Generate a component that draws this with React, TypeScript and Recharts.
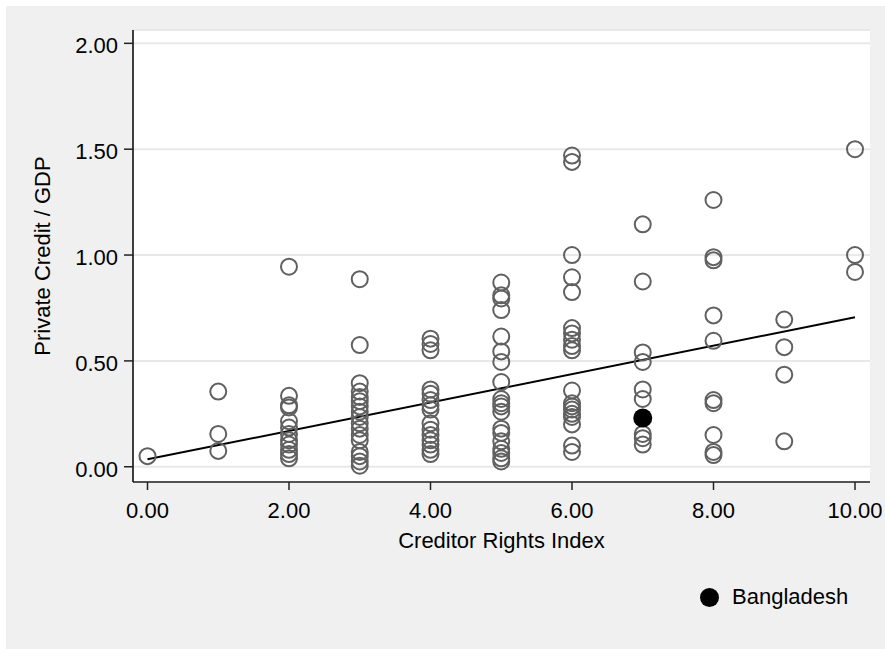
import {
  ScatterChart,
  Scatter,
  XAxis,
  YAxis,
  CartesianGrid,
  ReferenceLine,
} from "recharts";

// creditor rights index (x) and private credit / GDP values read at each index
const RIGHTS_INDEX = [0, 1, 2, 3, 4, 5, 6, 7, 8, 9, 10];
const CREDIT_BY_INDEX: number[][] = [
  [0.05],
  [0.355, 0.155, 0.075],
  [0.945, 0.335, 0.29, 0.28, 0.215, 0.185, 0.155, 0.125, 0.105, 0.08, 0.06, 0.04],
  [0.886, 0.575, 0.395, 0.355, 0.33, 0.31, 0.285, 0.26, 0.235, 0.205, 0.18, 0.15, 0.125, 0.07, 0.05, 0.025, 0.005],
  [0.605, 0.58, 0.55, 0.365, 0.345, 0.315, 0.29, 0.27, 0.205, 0.175, 0.15, 0.125, 0.105, 0.08, 0.06],
  [0.87, 0.81, 0.795, 0.74, 0.615, 0.545, 0.495, 0.4, 0.32, 0.3, 0.285, 0.26, 0.18, 0.16, 0.12, 0.085, 0.065, 0.04, 0.025],
  [1.47, 1.44, 1.0, 0.895, 0.825, 0.655, 0.63, 0.6, 0.57, 0.55, 0.36, 0.3, 0.285, 0.27, 0.25, 0.235, 0.2, 0.1, 0.07],
  [1.145, 0.875, 0.54, 0.495, 0.365, 0.32, 0.155, 0.135, 0.105],
  [1.26, 0.99, 0.975, 0.715, 0.595, 0.315, 0.3, 0.15, 0.07, 0.055],
  [0.695, 0.565, 0.435, 0.12],
  [1.5, 1.0, 0.92],
];

const BANGLADESH_X = [7];
const BANGLADESH_Y = [0.23];

// fitted line end points
const FIT_X = [0, 10];
const FIT_Y = [0.035, 0.706];

const X_TICKS = [0, 2, 4, 6, 8, 10];
const Y_TICKS = [0, 0.5, 1, 1.5, 2];

const FONT = '"Liberation Sans", Arial, sans-serif';

const points = RIGHTS_INDEX.flatMap((x, i) =>
  CREDIT_BY_INDEX[i].map((y) => ({ x, y })),
);
const bangladesh = BANGLADESH_X.map((x, i) => ({ x, y: BANGLADESH_Y[i] }));

const hollow = (p: any) => (
  <circle cx={p.cx} cy={p.cy} r={8} fill="none" stroke="#606060" strokeWidth={2} />
);
const filled = (p: any) => <circle cx={p.cx} cy={p.cy} r={9.5} fill="#000" />;

export default function App() {
  return (
    <div
      style={{
        position: "absolute",
        left: 0,
        top: 0,
        width: 885,
        height: 649,
        background: "#fff",
        fontFamily: FONT,
      }}
    >
      <div
        style={{
          position: "absolute",
          left: 6,
          top: 6,
          width: 879,
          height: 643,
          background: "#f0f0f0",
        }}
      />
      <div style={{ position: "absolute", left: 0, top: 0 }}>
        <ScatterChart
          width={885}
          height={649}
          margin={{ top: 30, right: 15, bottom: 0, left: 0 }}
        >
          <CartesianGrid
            vertical={false}
            fill="#fff"
            stroke="#e8e8e8"
            strokeWidth={2}
          />
          <XAxis
            type="number"
            dataKey="x"
            domain={[-0.205, 10.212]}
            ticks={X_TICKS}
            allowDataOverflow
            height={167}
            tickSize={8}
            tickMargin={12}
            tickFormatter={(v: number) => v.toFixed(2)}
            tick={{ fill: "#000", fontSize: 22 }}
            axisLine={{ stroke: "#222", strokeWidth: 1.5 }}
            tickLine={{ stroke: "#222", strokeWidth: 1.5 }}
            label={{
              value: "Creditor Rights Index",
              position: "insideTop",
              offset: 50,
              fill: "#000",
              fontSize: 22,
            }}
          />
          <YAxis
            type="number"
            dataKey="y"
            domain={[-0.072, 2.063]}
            ticks={Y_TICKS}
            allowDataOverflow
            width={133}
            tickSize={9}
            tickMargin={6}
            tickFormatter={(v: number) => v.toFixed(2)}
            tick={{ fill: "#000", fontSize: 22, dy: 2 }}
            axisLine={{ stroke: "#000", strokeWidth: 1.5 }}
            tickLine={{ stroke: "#222", strokeWidth: 1.5 }}
            label={{
              value: "Private Credit / GDP",
              angle: -90,
              position: "center",
              dx: -24,
              fill: "#000",
              fontSize: 22,
            }}
          />
          <Scatter data={points} shape={hollow} isAnimationActive={false} />
          <ReferenceLine
            segment={[
              { x: FIT_X[0], y: FIT_Y[0] },
              { x: FIT_X[1], y: FIT_Y[1] },
            ]}
            stroke="#000"
            strokeWidth={2}
            ifOverflow="visible"
          />
          <Scatter data={bangladesh} shape={filled} isAnimationActive={false} />
        </ScatterChart>
      </div>
      <div
        style={{
          position: "absolute",
          left: 700,
          top: 586,
          height: 22,
          display: "flex",
          alignItems: "center",
        }}
      >
        <span
          style={{
            width: 19,
            height: 19,
            borderRadius: "50%",
            background: "#000",
            display: "inline-block",
          }}
        />
        <span style={{ marginLeft: 13, fontSize: 22, lineHeight: "22px", color: "#000" }}>
          Bangladesh
        </span>
      </div>
    </div>
  );
}
